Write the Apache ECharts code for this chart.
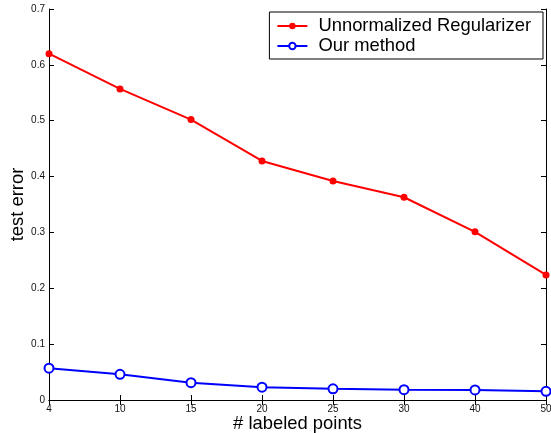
<!DOCTYPE html>
<html>
<head>
<meta charset="utf-8">
<script src="https://cdn.jsdelivr.net/npm/echarts@6/dist/echarts.min.js"></script>
<style>html,body{margin:0;padding:0;background:#fff}#c{width:551px;height:433px}</style>
</head>
<body>
<div id="c"></div>
<script>
var categories = ['4','10','15','20','25','30','40','50'];
var unnormalized = [0.620, 0.557, 0.502, 0.428, 0.392, 0.363, 0.301, 0.224];
var ourMethod = [0.057, 0.046, 0.031, 0.023, 0.020, 0.0185, 0.018, 0.0155];
var yTicks = [0, 0.1, 0.2, 0.3, 0.4, 0.5, 0.6, 0.7];

var FONT = 'Liberation Sans, Arial, sans-serif';
var chart = echarts.init(document.getElementById('c'), null, {renderer: 'canvas'});
var axisCommon = {
  axisLine: {show: true, lineStyle: {color: '#000', width: 1}},
  axisTick: {show: true, inside: true, length: 5, lineStyle: {color: '#000'}},
  splitLine: {show: false}
};
chart.setOption({
  animation: false,
  backgroundColor: '#fff',
  grid: {left: 49, right: 5, top: 9, bottom: 33, containLabel: false, outerBoundsMode: 'none'},
  legend: {
    orient: 'vertical', right: 8, top: 12,
    backgroundColor: '#fff', borderColor: '#000', borderWidth: 1, borderRadius: 0,
    padding: [5, 12, 4, 7], itemGap: 2, itemWidth: 30, itemHeight: 8,
    textStyle: {fontFamily: FONT, fontSize: 18.4, color: '#000', padding: [0, 0, 0, 6]},
    data: ['Unnormalized Regularizer', 'Our method']
  },
  xAxis: [
    Object.assign({
      type: 'category', data: categories, boundaryGap: false,
      name: '# labeled points', nameLocation: 'middle', nameGap: 15, nameMoveOverlap: false,
      nameTextStyle: {fontFamily: FONT, fontSize: 18.4, color: '#000'},
      axisLabel: {fontFamily: FONT, fontSize: 10, color: '#111', margin: 4, showMaxLabel: true, showMinLabel: true, interval: 0}
    }, axisCommon),
    Object.assign({
      type: 'category', data: categories, boundaryGap: false, position: 'top',
      axisLabel: {show: false}
    }, axisCommon)
  ],
  yAxis: [
    Object.assign({
      type: 'value', min: 0, max: 0.7, interval: 0.1,
      name: 'test error', nameLocation: 'middle', nameGap: 22, nameMoveOverlap: false,
      nameTextStyle: {fontFamily: FONT, fontSize: 18.4, color: '#000'},
      axisLabel: {fontFamily: FONT, fontSize: 10, color: '#111', margin: 4,
        formatter: function (v) { var r = Math.round(v * 10) / 10; return yTicks.indexOf(r) >= 0 ? (r === 0 ? '0' : r.toFixed(1)) : ''; }}
    }, axisCommon),
    Object.assign({
      type: 'value', min: 0, max: 0.7, interval: 0.1, position: 'right',
      axisLabel: {show: false}
    }, axisCommon)
  ],
  series: [
    {
      name: 'Unnormalized Regularizer', type: 'line', data: unnormalized,
      symbol: 'circle', symbolSize: 7,
      lineStyle: {color: '#ff0000', width: 2},
      itemStyle: {color: '#ff0000'}
    },
    {
      name: 'Our method', type: 'line', data: ourMethod,
      symbol: 'emptyCircle', symbolSize: 9,
      lineStyle: {color: '#0000ff', width: 2},
      itemStyle: {color: '#0000ff', borderColor: '#0000ff', borderWidth: 2}
    }
  ]
});
</script>
</body>
</html>
